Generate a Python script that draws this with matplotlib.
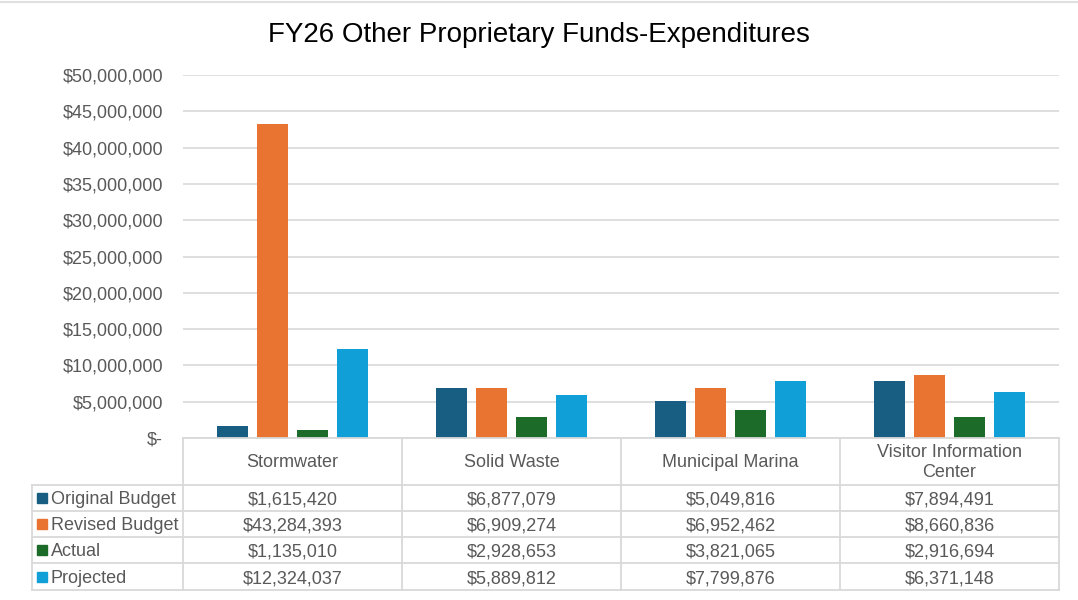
import matplotlib.pyplot as plt
import numpy as np
from matplotlib.patches import Rectangle
from matplotlib.ticker import FuncFormatter

plt.rcParams['font.family'] = ['Liberation Sans', 'DejaVu Sans']

categories = ['Stormwater', 'Solid Waste', 'Municipal Marina', 'Visitor Information\nCenter']
series = ['Original Budget', 'Revised Budget', 'Actual', 'Projected']
original_budget = [1615420, 6877079, 5049816, 7894491]
revised_budget = [43284393, 6909274, 6952462, 8660836]
actual = [1135010, 2928653, 3821065, 2916694]
projected = [12324037, 5889812, 7799876, 6371148]
values = [original_budget, revised_budget, actual, projected]
colors = ['#175E82', '#E97432', '#1C6B28', '#109FD7']

grey_text = '#595959'
grid_col = '#D9D9D9'

W, H = 1078, 600
fig = plt.figure(figsize=(W / 100, H / 100), dpi=100)

def fx(px):
    return px / W

def fy(py):
    return 1 - py / H

# main bar axes
ax = fig.add_axes([fx(183), fy(438), fx(1059) - fx(183), fy(75) - fy(438)])
x = np.arange(len(categories))
step = 0.1826
width = 0.1416
for i, (vals, c) in enumerate(zip(values, colors)):
    ax.bar(x + (i - 1.5) * step, vals, width, color=c, zorder=3)

ax.set_xlim(-0.5, len(categories) - 0.5)
ax.set_ylim(0, 50000000)
ax.set_yticks(np.arange(0, 50000001, 5000000))
ax.yaxis.set_major_formatter(FuncFormatter(lambda v, p: '$-' if v == 0 else f'${v:,.0f}'))
ax.tick_params(axis='y', length=0, pad=14.4, labelsize=13, labelcolor=grey_text)
ax.set_xticks([])
ax.grid(axis='y', color=grid_col, linewidth=1.2, zorder=0)
for s in ax.spines.values():
    s.set_visible(False)

fig.text(0.5, fy(35), 'FY26 Other Proprietary Funds-Expenditures',
         ha='center', va='center', fontsize=20, color='#000000')

# data table below the chart
tab = fig.add_axes([0, 0, 1, 1])
tab.set_xlim(0, W)
tab.set_ylim(H, 0)
tab.axis('off')

# faint chart border at the top
tab.plot([0, W], [2, 2], color='#E0E0E0', lw=1.5)

col_edges = [183, 402, 621, 840, 1059]
row_edges = [438, 485, 511, 537, 563, 590]
lw = 1.3

tab.plot([183, 1059], [438, 438], color=grid_col, lw=lw)
for xe in col_edges:
    tab.plot([xe, xe], [438, 590], color=grid_col, lw=lw)
tab.plot([32, 32], [485, 590], color=grid_col, lw=lw)
for ye in row_edges[1:]:
    tab.plot([32, 1059], [ye, ye], color=grid_col, lw=lw)

for j, cat in enumerate(categories):
    cx = (col_edges[j] + col_edges[j + 1]) / 2
    tab.text(cx, (438 + 485) / 2 + 1, cat, ha='center', va='center',
             fontsize=13, color=grey_text, linespacing=1.3)

for i, (name, vals, c) in enumerate(zip(series, values, colors)):
    cy = (row_edges[i + 1] + row_edges[i + 2]) / 2
    tab.add_patch(Rectangle((37, cy - 5), 10, 10, color=c))
    tab.text(51, cy, name, ha='left', va='center_baseline', fontsize=13, color=grey_text)
    for j, v in enumerate(vals):
        cx = (col_edges[j] + col_edges[j + 1]) / 2
        tab.text(cx, cy, f'${v:,.0f}', ha='center', va='center_baseline',
                 fontsize=13, color=grey_text)

fig.savefig('out.png', dpi=100)
